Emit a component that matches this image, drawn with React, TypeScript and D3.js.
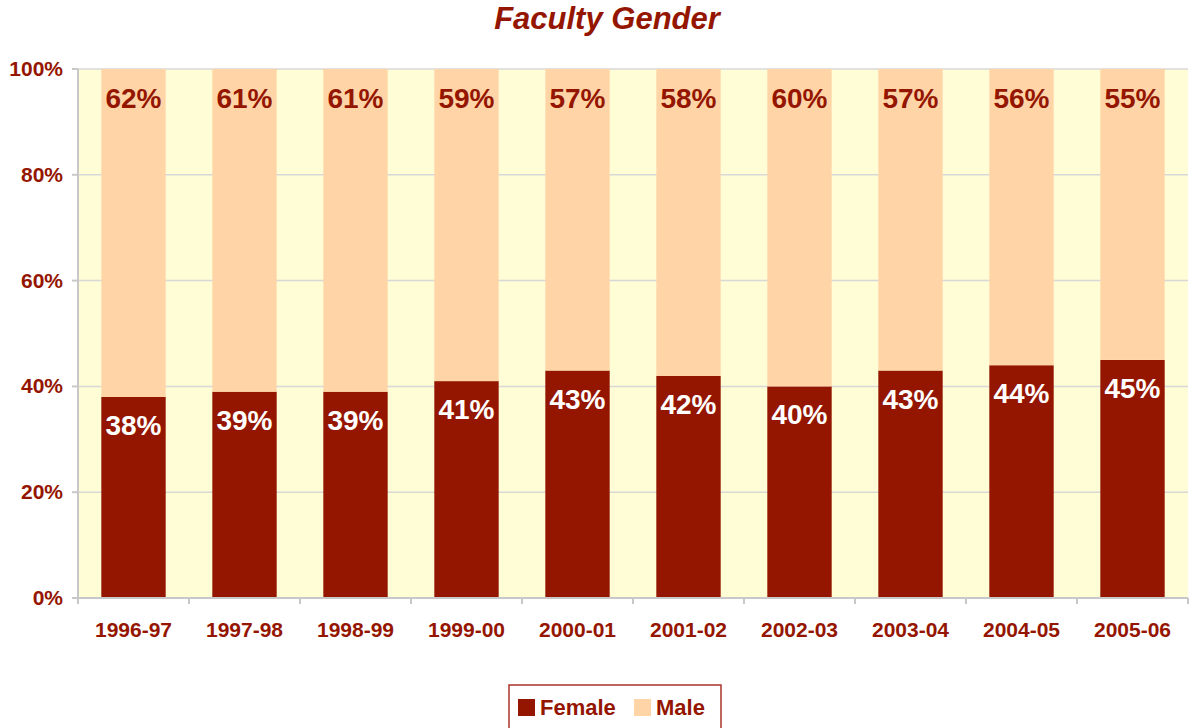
import { useEffect, useRef } from 'react';
import * as d3 from 'd3';

const WIDTH = 1189;
const HEIGHT = 728;
const MARGIN = { top: 69, right: 1, bottom: 130, left: 78 };

const years = ['1996-97', '1997-98', '1998-99', '1999-00', '2000-01', '2001-02', '2002-03', '2003-04', '2004-05', '2005-06'];
const female = [38, 39, 39, 41, 43, 42, 40, 43, 44, 45];
const male = [62, 61, 61, 59, 57, 58, 60, 57, 56, 55];
const yTicks = [0, 20, 40, 60, 80, 100];

const FEMALE_COLOR = '#951600';
const MALE_COLOR = '#FFD5A8';
const TEXT_COLOR = '#951600';
const PLOT_BG = '#FFFDD5';
const FONT = '"Liberation Sans", Arial, sans-serif';

export default function App() {
  const svgRef = useRef<SVGSVGElement>(null);

  useEffect(() => {
    if (!svgRef.current) return;
    const svg = d3.select(svgRef.current);
    svg.selectAll('*').remove();

    const innerWidth = WIDTH - MARGIN.left - MARGIN.right;
    const innerHeight = HEIGHT - MARGIN.top - MARGIN.bottom;

    const x = d3.scaleBand().domain(years).range([0, innerWidth]).paddingInner(0.42).paddingOuter(0.21);
    const y = d3.scaleLinear().domain([0, 100]).range([innerHeight, 0]);

    svg
      .append('text')
      .attr('x', 607)
      .attr('y', 29)
      .attr('text-anchor', 'middle')
      .attr('font-family', FONT)
      .attr('font-weight', 'bold')
      .attr('font-style', 'italic')
      .attr('font-size', 31)
      .attr('fill', TEXT_COLOR)
      .text('Faculty Gender');

    const g = svg.append('g').attr('transform', `translate(${MARGIN.left},${MARGIN.top})`);

    g.append('rect').attr('width', innerWidth).attr('height', innerHeight).attr('fill', PLOT_BG);

    g.selectAll('line.grid')
      .data(yTicks.filter((t) => t > 0))
      .enter()
      .append('line')
      .attr('class', 'grid')
      .attr('x1', 0)
      .attr('x2', innerWidth)
      .attr('y1', (d) => y(d))
      .attr('y2', (d) => y(d))
      .attr('stroke', '#D8D8D8')
      .attr('stroke-width', 1.5);

    // female bars (bottom) and male bars (stacked on top)
    g.selectAll('rect.female')
      .data(years)
      .enter()
      .append('rect')
      .attr('class', 'female')
      .attr('x', (d) => x(d) ?? 0)
      .attr('width', x.bandwidth())
      .attr('y', (_, i) => y(female[i]))
      .attr('height', (_, i) => innerHeight - y(female[i]))
      .attr('fill', FEMALE_COLOR);

    g.selectAll('rect.male')
      .data(years)
      .enter()
      .append('rect')
      .attr('class', 'male')
      .attr('x', (d) => x(d) ?? 0)
      .attr('width', x.bandwidth())
      .attr('y', (_, i) => y(female[i] + male[i]))
      .attr('height', (_, i) => y(female[i]) - y(female[i] + male[i]))
      .attr('fill', MALE_COLOR);

    g.selectAll('text.femaleLabel')
      .data(years)
      .enter()
      .append('text')
      .attr('x', (d) => (x(d) ?? 0) + x.bandwidth() / 2)
      .attr('y', (_, i) => y(female[i]) + 38)
      .attr('text-anchor', 'middle')
      .attr('font-family', FONT)
      .attr('font-weight', 'bold')
      .attr('font-size', 28)
      .attr('fill', '#ffffff')
      .text((_, i) => `${female[i]}%`);

    g.selectAll('text.maleLabel')
      .data(years)
      .enter()
      .append('text')
      .attr('x', (d) => (x(d) ?? 0) + x.bandwidth() / 2)
      .attr('y', (_, i) => y(female[i] + male[i]) + 39)
      .attr('text-anchor', 'middle')
      .attr('font-family', FONT)
      .attr('font-weight', 'bold')
      .attr('font-size', 28)
      .attr('fill', TEXT_COLOR)
      .text((_, i) => `${male[i]}%`);

    // axes
    const axisColor = '#C8C8C8';
    g.append('line')
      .attr('x1', 0)
      .attr('x2', 0)
      .attr('y1', 0)
      .attr('y2', innerHeight)
      .attr('stroke', axisColor)
      .attr('stroke-width', 2);
    g.append('line')
      .attr('x1', 0)
      .attr('x2', innerWidth)
      .attr('y1', innerHeight)
      .attr('y2', innerHeight)
      .attr('stroke', axisColor)
      .attr('stroke-width', 2);

    g.selectAll('line.ytick')
      .data(yTicks)
      .enter()
      .append('line')
      .attr('x1', -6)
      .attr('x2', 0)
      .attr('y1', (d) => y(d))
      .attr('y2', (d) => y(d))
      .attr('stroke', axisColor)
      .attr('stroke-width', 2);

    g.selectAll('text.ylabel')
      .data(yTicks)
      .enter()
      .append('text')
      .attr('x', -15)
      .attr('y', (d) => y(d) + 7)
      .attr('text-anchor', 'end')
      .attr('font-family', FONT)
      .attr('font-weight', 'bold')
      .attr('font-size', 21)
      .attr('fill', TEXT_COLOR)
      .text((d) => `${d}%`);

    const step = x.step();
    g.selectAll('line.xtick')
      .data(d3.range(years.length + 1))
      .enter()
      .append('line')
      .attr('x1', (i) => i * step)
      .attr('x2', (i) => i * step)
      .attr('y1', innerHeight)
      .attr('y2', innerHeight + 6)
      .attr('stroke', axisColor)
      .attr('stroke-width', 2);

    g.selectAll('text.xlabel')
      .data(years)
      .enter()
      .append('text')
      .attr('x', (d) => (x(d) ?? 0) + x.bandwidth() / 2)
      .attr('y', innerHeight + 39)
      .attr('text-anchor', 'middle')
      .attr('font-family', FONT)
      .attr('font-weight', 'bold')
      .attr('font-size', 21)
      .attr('fill', TEXT_COLOR)
      .text((d) => d);

    // legend
    const legend = svg.append('g').attr('transform', 'translate(509,685)');
    legend
      .append('rect')
      .attr('width', 212)
      .attr('height', 50)
      .attr('fill', '#ffffff')
      .attr('stroke', '#A8332A')
      .attr('stroke-width', 1.5);
    const items = [
      { name: 'Female', color: FEMALE_COLOR, x: 9 },
      { name: 'Male', color: MALE_COLOR, x: 125 },
    ];
    items.forEach((it) => {
      legend.append('rect').attr('x', it.x).attr('y', 14).attr('width', 17).attr('height', 17).attr('fill', it.color);
      legend
        .append('text')
        .attr('x', it.x + 22)
        .attr('y', 30)
        .attr('font-family', FONT)
        .attr('font-weight', 'bold')
        .attr('font-size', 22)
        .attr('fill', TEXT_COLOR)
        .text(it.name);
    });
  }, []);

  return (
    <div style={{ position: 'absolute', left: 0, top: 0, width: WIDTH, height: HEIGHT, overflow: 'hidden', background: '#fff' }}>
      <svg ref={svgRef} width={WIDTH} height={HEIGHT} />
    </div>
  );
}
